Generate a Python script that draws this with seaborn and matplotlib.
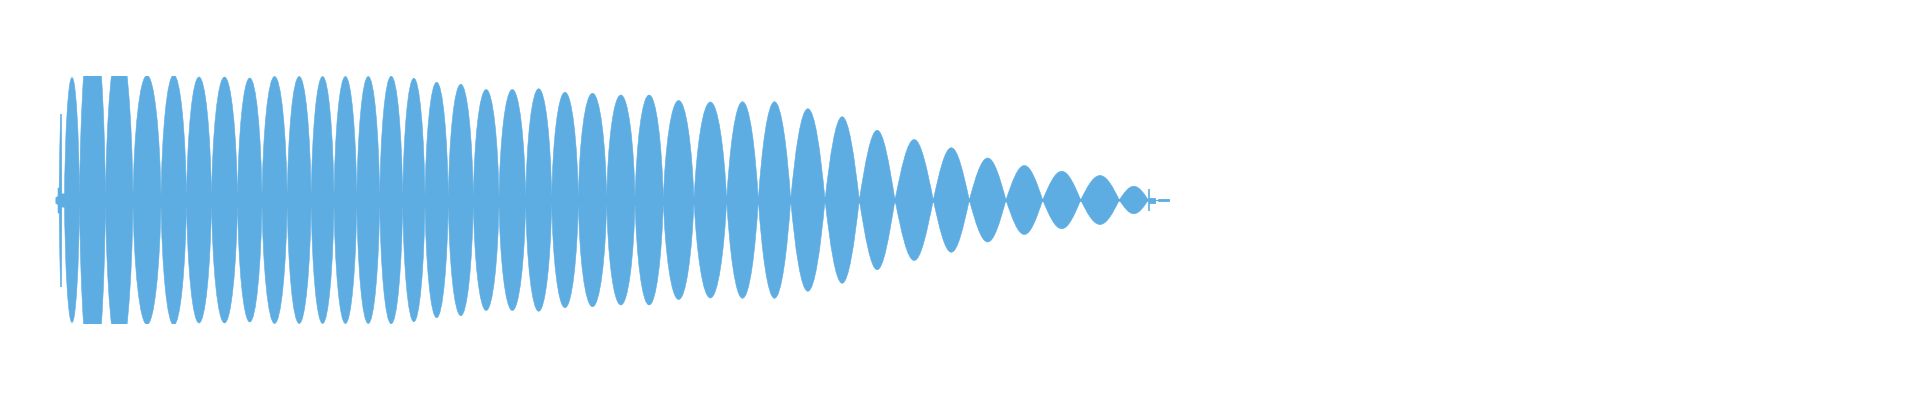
import numpy as np
import matplotlib
matplotlib.use("Agg")
import matplotlib.pyplot as plt
from matplotlib.path import Path
from matplotlib.patches import PathPatch, Rectangle
import seaborn as sns

# beat lobes of the waveform: nulls (position 0..1920) and peak level of each lobe
lobe_edges = [64.5, 79.5, 105.5, 133, 161, 186.5, 211.5, 237.5, 262, 287.2,
              311.2, 334, 356.8, 379.7, 402.7, 425, 448.3, 473.3, 499, 525.7,
              551.7, 578.3, 606.7, 635, 663.3, 694, 726.7, 758.3, 790.7, 825,
              859.3, 895, 933.3, 969.3, 1006, 1042.7, 1080.7, 1119.3, 1148.3]
lobe_peaks = [0.98, 1.45, 1.25, 0.996, 1.0, 0.984, 0.984, 0.976, 0.988, 0.988,
              0.988, 0.988, 0.988, 0.99, 0.974, 0.942, 0.926, 0.884, 0.884, 0.89,
              0.862, 0.854, 0.84, 0.84, 0.796, 0.784, 0.786, 0.786, 0.73, 0.666,
              0.558, 0.484, 0.418, 0.336, 0.276, 0.23, 0.196, 0.11]

# onset transient before the first lobe
onset_x = [57.5, 58.7, 59.3, 60.0, 61.0, 61.3]
onset_amp = [0.1, 0.1, 0.42, 0.69, 0.69, 0.05]

# residual level along the centre line
band_x = [55, 62, 400, 760, 1000, 1148.3]
band_amp = [0.024, 0.056, 0.056, 0.032, 0.012, 0.008]

# click at the end and the decaying tail
click_x = 1148.8
click_amp = 0.088
tail_x = [1149.3, 1155, 1155, 1158.3, 1158.3, 1169]
tail_amp = [0.02, 0.02, 0, 0, 0.006, 0.006]

full_scale = 0.992
color = "#5dade2"

sns.set_theme(style="white")

fig = plt.figure(figsize=(19.2, 4), dpi=100)
ax = fig.add_axes([0, 0, 1, 1])
ax.set_xlim(0, 1920)
ax.set_ylim(-1.6, 1.6)
ax.set_axis_off()

clip = Rectangle((0, -full_scale), 1920, 2 * full_scale, transform=ax.transData)


def lobe_path(x0, x1, a):
    # half-lobe shape between a sine (t=0) and an ellipse (t=1)
    h = (x1 - x0) / 2.0
    xm = x0 + h
    t = 0.8 * float(np.clip((880 - xm) / 260.0, 0, 1))
    c1x = (1 - t) * 0.3261 * h
    c1y = ((1 - t) * 0.5123 + t * 0.5523) * a
    c2x = ((1 - t) * 0.6381 + t * 0.4477) * h
    verts = [(x0, 0),
             (x0 + c1x, c1y), (x0 + c2x, a), (xm, a),
             (x1 - c2x, a), (x1 - c1x, c1y), (x1, 0),
             (x1 - c1x, -c1y), (x1 - c2x, -a), (xm, -a),
             (x0 + c2x, -a), (x0 + c1x, -c1y), (x0, 0),
             (x0, 0)]
    codes = [Path.MOVETO] + [Path.CURVE4] * 12 + [Path.CLOSEPOLY]
    return Path(verts, codes)


for x0, x1, a in zip(lobe_edges[:-1], lobe_edges[1:], lobe_peaks):
    patch = PathPatch(lobe_path(x0, x1, a), facecolor=color, edgecolor=color, lw=0.4)
    ax.add_patch(patch)
    patch.set_clip_path(clip)

band = np.array(band_amp)
ax.fill_between(band_x, -band, band, color=color, lw=0)

onset = np.array(onset_amp)
ax.fill_between(onset_x, -onset, onset, color=color, lw=0.4)

ax.vlines(click_x, -click_amp, click_amp, color=color, lw=1.2)
tail = np.array(tail_amp)
ax.fill_between(tail_x, -tail, tail, color=color, lw=0.6)

fig.savefig("out.png", dpi=100, facecolor="white")
